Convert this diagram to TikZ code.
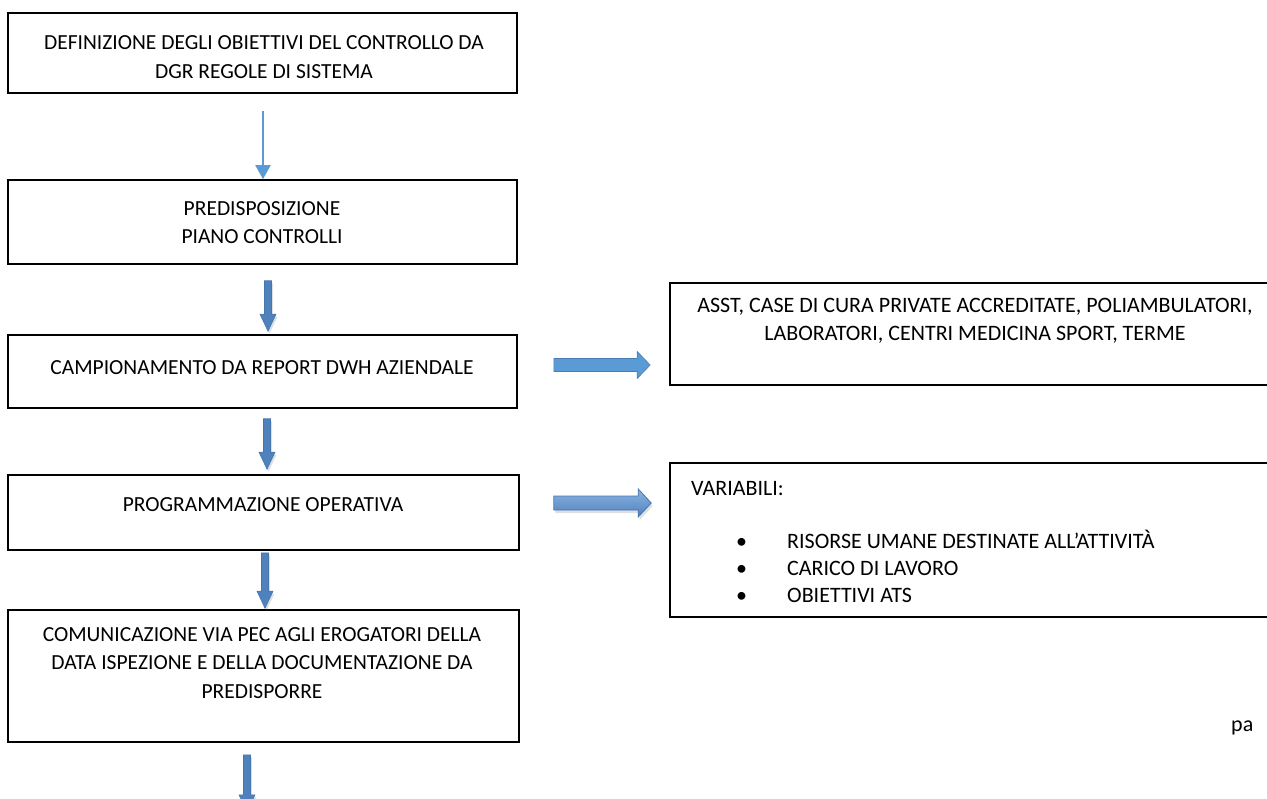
\documentclass[tikz,border=0pt]{standalone}
\usepackage{fontspec}
\setmainfont{Carlito}
\usetikzlibrary{calc,shadows,arrows.meta}

\definecolor{thinblue}{HTML}{5B9BD5}
\definecolor{fatblue}{HTML}{4F81BD}
\definecolor{fatedge}{HTML}{4676AE}
\definecolor{lightblue}{HTML}{8DB4E2}

% block arrow pointing down: from, tip, shaft half width, head half width, head length
\newcommand\fatdown[5]{let \p1=#1, \p2=#2 in
  (\x1-#3,\y1) -- (\x1+#3,\y1) -- (\x1+#3,\y2+#5) -- (\x1+#4,\y2+#5) -- (\x1,\y2)
  -- (\x1-#4,\y2+#5) -- (\x1-#3,\y2+#5) -- cycle}
% block arrow pointing right: from, tip, shaft half width, head half width, head length
\newcommand\fatright[5]{let \p1=#1, \p2=#2 in
  (\x1,\y1+#3) -- (\x2-#5,\y1+#3) -- (\x2-#5,\y1+#4) -- (\x2,\y1)
  -- (\x2-#5,\y1-#4) -- (\x2-#5,\y1-#3) -- (\x1,\y1-#3) -- cycle}

\begin{document}
\begin{tikzpicture}[x=1pt,y=-1pt,
  box/.style={draw=black, line width=1.6pt, inner sep=0pt},
  lbl/.style={align=center, inner sep=0pt, font=\fontsize{21.5}{28.5}\selectfont},
  lblr/.style={align=center, inner sep=0pt, font=\fontsize{22}{28}\selectfont},
  lbll/.style={align=left, inner sep=0pt, font=\fontsize{22}{27}\selectfont},
  thinarrow/.style={draw=thinblue, line width=2pt, -{Triangle[width=15pt,length=14pt]}},
  fatv/.style={fill=fatblue, draw=fatedge, line width=0.6pt,
    drop shadow={shadow xshift=1.5pt, shadow yshift=-2.5pt, opacity=0.25}},
  flath/.style={fill=thinblue, draw=fatedge!80!thinblue, line width=0.6pt},
  shadeh/.style={top color=lightblue, bottom color=fatblue, draw=fatedge, line width=0.8pt,
    drop shadow={shadow xshift=1.5pt, shadow yshift=-3pt, opacity=0.25}}]

\useasboundingbox (0,0) rectangle (1267,799);
\clip (0,0) rectangle (1267,799);

% process steps on the left
\node[box, minimum width=509pt, minimum height=80pt]  (b1) at (262.5,53) {};
\node[box, minimum width=509pt, minimum height=84pt]  (b2) at (262.5,222) {};
\node[box, minimum width=509pt, minimum height=73pt]  (b3) at (262.5,371.5) {};
\node[box, minimum width=511pt, minimum height=75pt]  (b4) at (263.5,512.5) {};
\node[box, minimum width=511pt, minimum height=132pt] (b5) at (263.5,676) {};

\node[lbl] (t1) at (264,57) {DEFINIZIONE DEGLI OBIETTIVI DEL CONTROLLO DA\\DGR REGOLE DI SISTEMA};
\node[lbl] (t2) at (262,222.5) {PREDISPOSIZIONE\\PIANO CONTROLLI};
\node[lbl] (t3) at (262,368) {CAMPIONAMENTO DA REPORT DWH AZIENDALE};
\node[lbl] (t4) at (263,505) {PROGRAMMAZIONE OPERATIVA};
\node[lbl] (t5) at (262,663) {COMUNICAZIONE VIA PEC AGLI EROGATORI DELLA\\DATA ISPEZIONE E DELLA DOCUMENTAZIONE DA\\PREDISPORRE};

% side boxes on the right
\node[box, minimum width=620pt, minimum height=102pt] (r1) at (980,334) {};
\node[box, minimum width=620pt, minimum height=154pt] (r2) at (980,540) {};

\node[lblr] (u1) at (975,321) {ASST, CASE DI CURA PRIVATE ACCREDITATE, POLIAMBULATORI,\\LABORATORI, CENTRI MEDICINA SPORT, TERME};
\node[lbll, anchor=west] (u2) at (691,489) {VARIABILI:};
\node[lbll, anchor=west] (u3) at (736,566) {%
  \makebox[51pt][l]{\textbullet}RISORSE UMANE DESTINATE ALL’ATTIVITÀ\\
  \makebox[51pt][l]{\textbullet}CARICO DI LAVORO\\
  \makebox[51pt][l]{\textbullet}OBIETTIVI ATS};

\node[lbll, anchor=base west] (pg) at (1231,731) {pa};

% connectors between the steps
\draw[thinarrow] ([xshift=0.5pt,yshift=-17pt]b1.south) -- ([xshift=0.5pt]b2.north);
\path[fatv] \fatdown{([xshift=5.5pt,yshift=-16pt]b2.south)}{([xshift=5.5pt,yshift=3pt]b3.north)}{3.5pt}{8pt}{17pt};
\path[fatv] \fatdown{([xshift=4.5pt,yshift=-10pt]b3.south)}{([xshift=4.5pt,yshift=5pt]b4.north)}{3.5pt}{8pt}{17pt};
\path[fatv] \fatdown{([xshift=1.5pt,yshift=-2pt]b4.south)}{([xshift=1.5pt,yshift=1pt]b5.north)}{3.5pt}{8pt}{17pt};
\coordinate (e5) at ([xshift=-16.5pt,yshift=-69pt]b5.south);
\path[fatv] \fatdown{([xshift=-16.5pt,yshift=-12pt]b5.south)}{(e5)}{3.5pt}{8pt}{17pt};

% connectors to the side boxes
\path[flath] \fatright{($(b3.east)+(36,-6.5)$)}{($(b3.east -| r1.west)+(-19,-6.5)$)}{6.5pt}{13.5pt}{13pt};
\path[shadeh] \fatright{($(b4.east)+(34,-9.5)$)}{($(b4.east -| r2.west)+(-18,-9.5)$)}{7pt}{14pt}{13pt};

\end{tikzpicture}
\end{document}
